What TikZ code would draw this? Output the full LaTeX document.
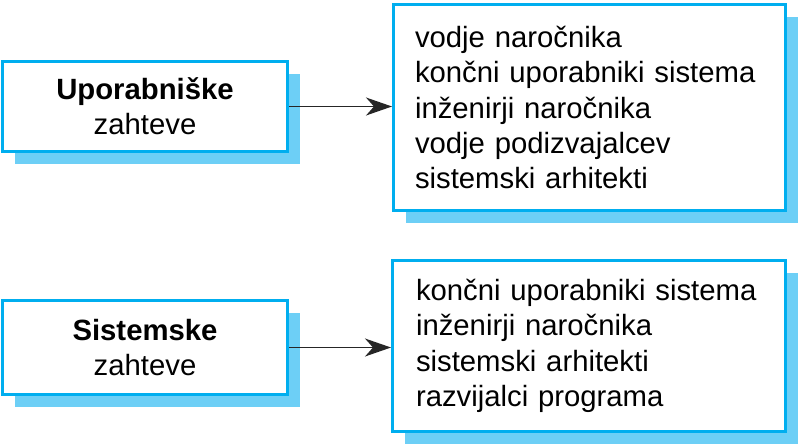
\documentclass[tikz,border=0pt]{standalone}
\usepackage{fontspec}
\setmainfont{Liberation Sans}
\usetikzlibrary{arrows.meta,shadows}
\definecolor{boxblue}{HTML}{00AEEF}
\definecolor{shadowblue}{HTML}{6DCFF6}
\begin{document}
\begin{tikzpicture}[x=1pt,y=-1pt,
  reqbox/.style={draw=boxblue, line width=3pt, fill=white, rectangle, inner sep=0pt,
    general shadow={fill=shadowblue, shadow xshift=12pt, shadow yshift=-12pt},
    font=\fontsize{29.3}{35.3}\selectfont},
  flow/.style={-{Stealth[length=26pt,width=18pt,inset=8pt]}, line width=1.5pt, draw=black!85, fill=black!85}]
\useasboundingbox (0,0) rectangle (800,447);
\node[reqbox, minimum width=285pt, minimum height=90pt, align=center] (A) at (145,106.5)
  {\textbf{Uporabniške}\\zahteve};
\node[reqbox, minimum width=392pt, minimum height=206pt, text width=349pt, align=left] (B) at (589.5,107.5)
  {vodje naročnika\\končni uporabniki sistema\\inženirji naročnika\\vodje podizvajalcev\\sistemski arhitekti};
\node[reqbox, minimum width=285pt, minimum height=94pt, align=center] (C) at (145,347.5)
  {\textbf{Sistemske}\\zahteve};
\node[reqbox, minimum width=393pt, minimum height=171pt, text width=346pt, align=left] (D) at (589,346)
  {končni uporabniki sistema\\inženirji naročnika\\sistemski arhitekti\\razvijalci programa};
\draw[flow] (A.east) -- (A.east -| B.west);
\draw[flow] (C.east) -- (C.east -| D.west);
\end{tikzpicture}
\end{document}
